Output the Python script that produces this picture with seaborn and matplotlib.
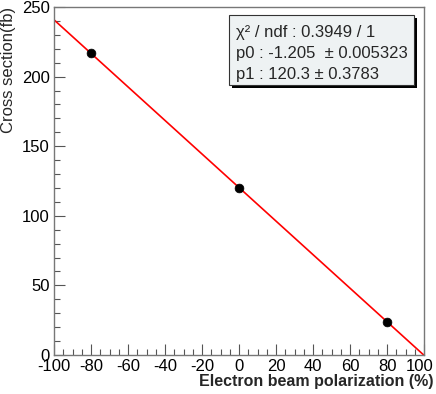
import numpy as np
import pandas as pd
import matplotlib
matplotlib.use("Agg")
import matplotlib.pyplot as plt
from matplotlib.ticker import MultipleLocator
from matplotlib.patches import Rectangle
from matplotlib.transforms import ScaledTranslation
import seaborn as sns

# measured points
polarization = [-80, 0, 80]
cross_section = [217.2, 120.3, 23.8]

# linear fit parameters (p0 = slope, p1 = intercept)
p0 = -1.205
p1 = 120.3
fit_x = [-100, 100]

stat_lines = ["χ² / ndf : 0.3949 / 1",
              "p0 : -1.205  ± 0.005323",
              "p1 : 120.3 ± 0.3783"]

sns.set_theme(style="white")
plt.rcParams['font.family'] = ['Liberation Sans', 'DejaVu Sans']
plt.rcParams['axes.unicode_minus'] = False

W, H = 436, 394
fig = plt.figure(figsize=(W / 100, H / 100), dpi=100)
ax = fig.add_axes([54 / W, 39 / H, 370 / W, 348 / H])

df_fit = pd.DataFrame({"x": fit_x, "y": [p1 + p0 * v for v in fit_x]})
sns.lineplot(data=df_fit, x="x", y="y", color="red", linewidth=1.2, ax=ax)

df_pts = pd.DataFrame({"x": polarization, "y": cross_section})
sns.scatterplot(data=df_pts, x="x", y="y", color="black", s=40,
                edgecolor="black", zorder=3, ax=ax)

ax.set_xlim(-100, 100)
ax.set_ylim(0, 250)
ax.xaxis.set_major_locator(MultipleLocator(20))
ax.xaxis.set_minor_locator(MultipleLocator(5))
ax.yaxis.set_major_locator(MultipleLocator(50))
ax.yaxis.set_minor_locator(MultipleLocator(10))
ax.tick_params(which="both", direction="in", top=False, right=False,
               bottom=True, left=True, colors="#555555", labelcolor="black",
               labelsize=12, pad=3)
ax.tick_params(which="major", length=8, width=0.8)
ax.tick_params(which="minor", length=4, width=0.8)
for s in ax.spines.values():
    s.set_color("#777777")
    s.set_linewidth(1.0)

# keep the "100" label inside the canvas
fig.canvas.draw()
last = [t for t in ax.xaxis.get_major_ticks() if abs(t.get_loc() - 100) < 1e-6]
for t in last:
    t.label1.set_transform(t.label1.get_transform()
                           + ScaledTranslation(-4 / 100, 0, fig.dpi_scale_trans))

ax.set_xlabel("Electron beam polarization (%)", fontsize=11.5, fontweight="bold",
              ha="right", va="top")
ax.xaxis.set_label_coords((433 - 54) / 370, (355 - 374) / 348)
ax.set_ylabel("Cross section(fb)", fontsize=12, loc="top", labelpad=4)

# stats box with shadow
bx0, by0, bx1, by1 = 229, 15, 414, 85
fig.patches.append(Rectangle(((bx0 + 3) / W, 1 - (by1 + 3) / H), (bx1 - bx0) / W,
                             (by1 - by0) / H, transform=fig.transFigure,
                             facecolor="black", edgecolor="none", zorder=5))
fig.patches.append(Rectangle((bx0 / W, 1 - by1 / H), (bx1 - bx0) / W,
                             (by1 - by0) / H, transform=fig.transFigure,
                             facecolor="#eef2f3", edgecolor="#333333",
                             linewidth=0.8, zorder=6))
for i, line in enumerate(stat_lines):
    fig.text((bx0 + 7) / W, 1 - (32 + 21.5 * i) / H, line, fontsize=12,
             va="center", ha="left", zorder=7)

fig.savefig("out.png", dpi=100)
